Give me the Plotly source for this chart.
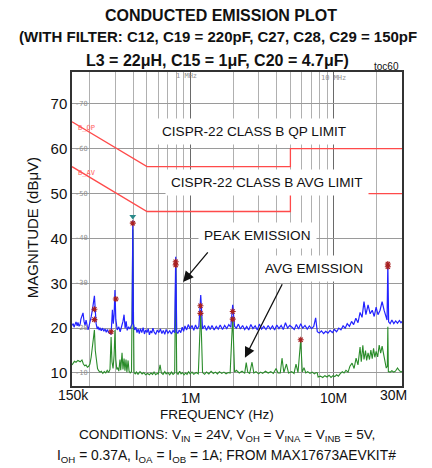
import math
import plotly.graph_objects as go

FONT = "Liberation Sans, Arial, sans-serif"

# ---------------- data ----------------
limit_freq = [0.15, 0.5, 5.0, 5.0, 30.0]          # MHz
qp_limit = [66, 56, 56, 60, 60]                    # dBuV
avg_limit = [56, 46, 46, 50, 50]

peak_freq = [0.150, 0.153, 0.155, 0.158, 0.160, 0.163, 0.165, 0.168, 0.171, 0.173, 0.176, 0.179,
             0.182, 0.185, 0.188, 0.191, 0.194, 0.197, 0.200, 0.204, 0.208, 0.212, 0.215, 0.218,
             0.221, 0.225, 0.228, 0.232, 0.235, 0.240, 0.245, 0.250, 0.255, 0.260, 0.265, 0.270,
             0.275, 0.281, 0.287, 0.291, 0.295, 0.299, 0.303, 0.310, 0.318, 0.325, 0.333, 0.340,
             0.346, 0.352, 0.358, 0.364, 0.372, 0.380, 0.388, 0.394, 0.398, 0.402, 0.410, 0.418,
             0.426, 0.434, 0.442, 0.450, 0.460, 0.470, 0.480, 0.490, 0.500, 0.510, 0.520, 0.530,
             0.540, 0.550, 0.560, 0.575, 0.590, 0.605, 0.620, 0.635, 0.650, 0.665, 0.680, 0.700,
             0.720, 0.740, 0.760, 0.780, 0.793, 0.806, 0.820, 0.840, 0.860, 0.880, 0.900, 0.920,
             0.945, 0.970, 1.000, 1.030, 1.060, 1.090, 1.120, 1.150, 1.185, 1.22, 1.26, 1.30,
             1.34, 1.38, 1.42, 1.47, 1.52, 1.57, 1.62, 1.68, 1.74, 1.80, 1.86, 1.92, 1.98, 2.04,
             2.10, 2.17, 2.24, 2.32, 2.40, 2.48, 2.56, 2.65, 2.74, 2.84, 2.94, 3.04, 3.15, 3.26,
             3.38, 3.50, 3.62, 3.75, 3.88, 4.02, 4.16, 4.31, 4.46, 4.62, 4.78, 4.95, 5.13, 5.32,
             5.50, 5.70, 5.90, 6.10, 6.32, 6.55, 6.78, 7.02, 7.27, 7.50, 7.70, 7.95, 8.23, 8.52,
             8.82, 9.13, 9.46, 9.80, 10.15, 10.50, 10.87, 11.25, 11.65, 12.05, 12.45, 12.90,
             13.35, 13.80, 14.30, 14.80, 15.30, 15.80, 16.30, 16.80, 17.40, 18.00, 18.60, 19.20,
             19.80, 20.40, 21.10, 21.80, 22.50, 23.10, 23.60, 23.90, 24.20, 24.80, 25.50, 26.30,
             27.10, 27.90, 28.80, 29.50, 30.00]
peak_db = [20.6, 21.0, 20.2, 20.8, 21.4, 20.5, 21.3, 20.4, 20.9, 22.0, 23.0, 23.4,
           21.5, 20.6, 21.8, 20.2, 19.6, 20.4, 21.2, 22.5, 24.0, 25.5, 27.2, 24.0,
           21.0, 19.8, 20.3, 19.6, 20.1, 19.4, 20.0, 19.3, 19.8, 19.1, 19.7, 19.0,
           18.9, 18.6, 24.1, 21.0, 23.0, 28.5, 22.0, 19.6, 20.3, 19.2, 20.4, 21.5,
           23.0, 20.0, 21.5, 19.5, 20.3, 19.8, 20.5, 21.0, 44.0, 21.0, 19.6, 20.2,
           19.0, 19.8, 18.8, 19.9, 19.0, 20.1, 18.7, 19.6, 19.0, 19.9, 18.5, 19.4,
           18.9, 20.0, 19.2, 18.6, 19.6, 19.0, 19.8, 18.8, 19.5, 18.6, 19.7, 18.9,
           19.4, 18.7, 19.5, 19.0, 35.9, 19.2, 18.8, 19.6, 19.0, 20.2, 19.3, 20.5,
           19.6, 20.8, 19.8, 20.6, 19.5, 20.7, 19.8, 20.4, 27.4, 19.8, 20.6, 19.5,
           20.5, 19.7, 20.6, 19.6, 20.4, 19.8, 20.7, 19.7, 20.6, 19.9, 20.8, 20.2, 25.2, 20.4,
           20.0, 20.9, 19.8, 20.6, 19.7, 20.4, 19.6, 20.8, 19.9, 20.5, 19.6, 20.9, 19.8, 20.4,
           19.7, 20.6, 19.8, 20.5, 19.6, 20.7, 19.9, 20.6, 19.7, 21.2, 20.0, 20.6, 20.2, 19.7,
           20.8, 19.8, 21.0, 20.0, 20.6, 19.8, 20.5, 19.9, 20.4, 22.3, 19.2, 18.9, 19.4, 18.8,
           19.3, 18.9, 19.5, 19.0, 19.7, 19.2, 20.0, 19.6, 20.5, 20.0, 21.0, 20.4,
           21.5, 20.8, 22.2, 21.2, 23.5, 22.4, 25.9, 23.0, 25.2, 23.2, 24.0, 22.6,
           24.7, 23.0, 24.0, 25.9, 24.0, 22.5, 21.8, 34.6, 21.4, 21.0, 21.8, 21.0,
           21.6, 21.1, 21.7, 21.2, 21.5]

avg_freq = [0.150, 0.153, 0.156, 0.160, 0.165, 0.171, 0.176, 0.180, 0.184, 0.188, 0.192, 0.196,
            0.200, 0.204, 0.208, 0.212, 0.215, 0.218, 0.222, 0.226, 0.230, 0.235, 0.240, 0.246,
            0.252, 0.258, 0.264, 0.270, 0.276, 0.281, 0.285, 0.290, 0.295, 0.299, 0.303, 0.308,
            0.313, 0.318, 0.324, 0.328, 0.335, 0.340, 0.346, 0.351, 0.357, 0.362, 0.369, 0.375,
            0.382, 0.390, 0.398, 0.406, 0.414, 0.422, 0.433, 0.447, 0.462, 0.475, 0.490, 0.505,
            0.520, 0.533, 0.547, 0.560, 0.575, 0.590, 0.600, 0.617, 0.630, 0.647, 0.665, 0.680,
            0.700, 0.720, 0.740, 0.760, 0.780, 0.793, 0.806, 0.823, 0.845, 0.864, 0.885, 0.906,
            0.930, 0.951, 0.975, 1.000, 1.03, 1.06, 1.10, 1.14, 1.185, 1.22, 1.26, 1.30, 1.35,
            1.40, 1.45, 1.50, 1.55, 1.60, 1.66, 1.72, 1.78, 1.84, 1.90, 1.98, 2.04, 2.10, 2.20,
            2.30, 2.40, 2.46, 2.52, 2.60, 2.70, 2.78, 2.88, 3.0, 3.1, 3.2, 3.35, 3.5, 3.65, 3.8,
            3.97, 4.1, 4.25, 4.37, 4.50, 4.69, 4.85, 5.10, 5.30, 5.47, 5.65, 5.90, 6.05, 6.22,
            6.40, 6.60, 6.85, 7.10, 7.35, 7.55, 7.70, 7.80, 8.1, 8.4, 8.7, 9.0, 9.3, 9.6, 9.9,
            10.2, 10.5, 10.8, 11.1, 11.5, 11.83, 12.2, 12.62, 13.0, 13.46, 13.9, 14.35, 14.8,
            15.3, 15.6, 16.0, 16.3, 16.7, 17.0, 17.4, 17.8, 18.2, 18.6, 19.0, 19.4, 19.8, 20.3,
            20.8, 21.3, 21.8, 22.3, 22.8, 23.3, 23.7, 23.9, 24.1, 24.8, 25.5, 26.3, 27.0, 27.9,
            28.8, 29.5, 30.0]
avg_db = [11.8, 12.2, 12.6, 12.4, 12.8, 12.5, 12.9, 12.0, 11.6, 11.8, 11.3, 11.5,
          12.0, 13.5, 15.5, 18.0, 19.6, 15.0, 12.0, 11.0, 10.5, 10.2, 10.4, 9.9,
          10.3, 10.0, 10.6, 10.1, 10.8, 18.0, 12.5, 11.0, 14.0, 19.6, 13.0, 10.8,
          11.2, 10.4, 13.0, 10.6, 14.5, 10.8, 13.2, 10.5, 13.0, 10.2, 12.8, 10.4,
          10.0, 10.3, 42.0, 10.1, 9.8, 10.2, 9.7, 10.3, 9.8, 10.1, 9.6, 9.9,
          9.6, 10.0, 9.7, 10.2, 9.6, 9.9, 9.8, 11.8, 10.0, 9.7, 10.3, 9.8,
          10.1, 9.6, 10.2, 9.7, 10.0, 33.5, 10.0, 9.7, 10.4, 9.8, 10.1, 9.6,
          10.0, 9.7, 10.3, 9.8, 10.2, 9.7, 10.1, 9.8, 24.0, 10.1, 9.7, 10.2, 9.8,
          10.4, 9.9, 10.2, 9.8, 10.3, 9.9, 10.2, 9.8, 10.1, 10.0, 22.5, 10.2, 10.6, 10.0,
          10.4, 9.9, 12.3, 10.2, 9.9, 12.4, 10.0, 10.3, 9.8, 10.2, 9.9, 10.4, 10.0, 10.3, 9.9,
          11.0, 10.0, 10.0, 13.3, 10.1, 12.0, 10.0, 10.3, 9.9, 12.0, 10.1, 17.4, 10.2, 11.2,
          10.0, 10.3, 9.9, 10.2, 9.8, 10.1, 10.0, 9.1, 9.3, 9.0, 9.4, 9.1, 9.5, 9.0, 9.4,
          9.2, 9.6, 9.3, 9.8, 10.3, 10.0, 10.6, 10.2, 11.5, 12.2, 11.0, 13.3, 11.8,
          15.8, 12.5, 16.2, 13.0, 15.0, 12.8, 14.5, 13.0, 15.1, 13.2, 15.5, 13.5, 14.8, 13.6,
          16.2, 14.4, 16.0, 14.0, 13.0, 11.1, 11.5, 20.3, 10.3, 10.2, 10.5, 10.2, 10.4, 11.1,
          10.5, 10.2, 10.4]

marker_freq = [0.215, 0.215, 0.281, 0.303, 0.398, 0.793, 0.793, 1.18, 1.18, 1.98, 1.98, 5.90, 23.9, 23.9]
marker_db = [24.2, 21.9, 19.2, 26.5, 43.4, 34.8, 34.1, 25.0, 23.3, 23.7, 22.0, 17.4, 34.3, 33.7]
tri_freq = [0.398]
tri_db = [44.9]

y_ticks = [10, 20, 30, 40, 50, 60, 70]
x_tick_vals = [0.15, 1, 10, 30]
x_tick_text = ["150k", "1M", "10M", "30M"]

L = math.log10  # annotations on a log axis are placed by log10 of the value

# ---------------- figure ----------------
fig = go.Figure()

fig.add_trace(go.Scatter(x=limit_freq, y=qp_limit, mode="lines",
                         line=dict(color="#ff4a4a", width=1.3), hoverinfo="skip"))
fig.add_trace(go.Scatter(x=limit_freq, y=avg_limit, mode="lines",
                         line=dict(color="#ff4a4a", width=1.3), hoverinfo="skip"))
fig.add_trace(go.Scatter(x=avg_freq, y=avg_db, mode="lines",
                         line=dict(color="#2a8c2a", width=1.1)))
fig.add_trace(go.Scatter(x=peak_freq, y=peak_db, mode="lines",
                         line=dict(color="#2323ff", width=1.2)))
fig.add_trace(go.Scatter(x=marker_freq, y=marker_db, mode="markers",
                         marker=dict(symbol="asterisk-open", size=5, color="#a82020",
                                     line=dict(color="#a82020", width=1.1))))
fig.add_trace(go.Scatter(x=tri_freq, y=tri_db, mode="markers",
                         marker=dict(symbol="triangle-down", size=6, color="#2a8a8a")))

ann = []


def label(text, x, y, size, xref="paper", yref="paper", **kw):
    d = dict(text=text, x=x, y=y, xref=xref, yref=yref, showarrow=False,
             xanchor=kw.pop("xanchor", "center"), yanchor=kw.pop("yanchor", "middle"),
             font=dict(family=kw.pop("family", FONT), size=size, color=kw.pop("color", "#111")))
    d.update(kw)
    ann.append(d)


# title lines
title_lines = ["CONDUCTED EMISSION PLOT",
               "(WITH FILTER: C12, C19 = 220pF, C27, C28, C29 = 150pF",
               "L3 = 22μH, C15 = 1μF, C20 = 4.7μF)"]
title_pos = [(0.451, 1.1815), (0.442, 1.1115), (0.44, 1.0382)]
title_size = [16, 15, 16]
for t, (px, py), fs in zip(title_lines, title_pos, title_size):
    label("<b>" + t + "</b>", px, py, fs)

label("toc60", 0.9545, 1.016, 10)

# axis titles and conditions
label("MAGNITUDE (dBμV)", -0.121, 0.503, 15, textangle=-90)
label("FREQUENCY (Hz)", 0.439, -0.092, 13.5)
label("CONDITIONS: V<sub>IN</sub> = 24V, V<sub>OH</sub> = V<sub>INA</sub> = V<sub>INB</sub> = 5V,",
      0.47, -0.158, 13.6)
label("I<sub>OH</sub> = 0.37A, I<sub>OA</sub> = I<sub>OB</sub> = 1A; FROM MAX17673AEVKIT#",
      0.467, -0.224, 13.8)

# x tick labels
x_tick_y = [-0.028, -0.037, -0.037, -0.028]
x_tick_shift = [1, 0, 0, -9]
for v, t, yy, sh in zip(x_tick_vals, x_tick_text, x_tick_y, x_tick_shift):
    label(t, L(v), yy, 14, xref="x", xshift=sh)

# small inner gray labels
MONO = "DejaVu Sans Mono"
for v in y_ticks:
    label("-" + str(v), 0.004, v, 7, yref="y", xanchor="left", family=MONO, color="#909090")
label("1 MHz", L(1), 0.987, 7, xref="x", xshift=-4, family=MONO, color="#909090")
label("10 MHz", L(10), 0.981, 7, xref="x", family=MONO, color="#909090")
label("B_QP", 0.012, 64.6, 7, yref="y", xanchor="left", family=MONO, color="#ff6060")
label("B_AV", 0.012, 54.6, 7, yref="y", xanchor="left", family=MONO, color="#ff6060")

# boxed labels
boxed = [("CISPR-22 CLASS B QP LIMIT", 2.77, 63.8),
         ("CISPR-22 CLASS B AVG LIMIT", 3.46, 52.5),
         ("PEAK EMISSION", 2.93, 40.6),
         ("AVG EMISSION", 7.31, 33.3)]
for t, fx, yv in boxed:
    label(t, L(fx), yv, 13.6, xref="x", yref="y", bgcolor="white", borderpad=5)

# arrows
ann.append(dict(text="", x=L(0.892), y=30.3, xref="x", yref="y", showarrow=True,
                ax=26, ay=-31, arrowhead=2, arrowsize=1.6, arrowwidth=1.3, arrowcolor="#111"))
ann.append(dict(text="", x=L(2.41), y=13.4, xref="x", yref="y", showarrow=True,
                ax=38, ay=-75, arrowhead=2, arrowsize=1.6, arrowwidth=1.3, arrowcolor="#111"))

# the page body has an 8px default margin, so the figure is 8px smaller in each direction
fig.update_layout(
    width=424, height=460,
    margin=dict(l=64, r=30, t=64, b=82),
    paper_bgcolor="white", plot_bgcolor="white",
    showlegend=False,
    annotations=ann,
    xaxis=dict(type="log", range=[L(0.15), L(30)], dtick=1, showticklabels=False,
               showgrid=True, gridcolor="#6a6a6a", gridwidth=1.2,
               minor=dict(dtick="D1", showgrid=True, gridcolor="#b0b0b0", gridwidth=1, ticks=""),
               showline=True, mirror=True, linecolor="#333", linewidth=1.5,
               ticks="", zeroline=False),
    yaxis=dict(range=[7.1, 77.1], tickvals=y_ticks, showgrid=True, gridcolor="#9a9a9a",
               gridwidth=1.4, showline=True, mirror=True, linecolor="#333", linewidth=1.5,
               ticks="", zeroline=False,
               tickfont=dict(family=FONT, size=15, color="#111")),
)

fig.write_html("out.html")
